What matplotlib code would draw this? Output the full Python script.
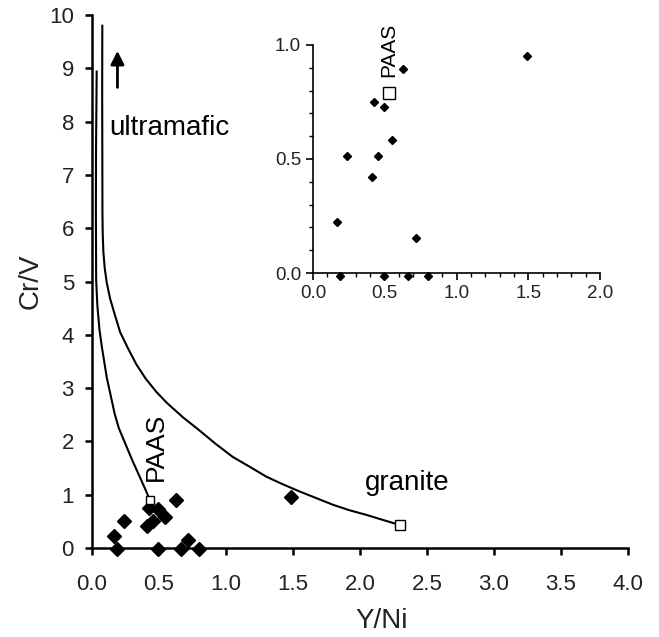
import matplotlib.pyplot as plt
from matplotlib.ticker import MultipleLocator

plt.rcParams['font.family'] = ['Liberation Sans', 'DejaVu Sans']

# sample data (Y/Ni, Cr/V)
y_ni = [0.167, 0.186, 0.240, 0.412, 0.428, 0.453, 0.493, 0.493, 0.547, 0.628, 0.663, 0.716, 0.80, 1.488]
cr_v = [0.222, -0.015, 0.515, 0.420, 0.749, 0.511, -0.015, 0.730, 0.584, 0.896, -0.015, 0.155, -0.015, 0.953]

# end members
paas_main = (0.43, 0.91)
paas_inset = (0.53, 0.788)
granite = (2.30, 0.43)

# mixing curves
inner_x = [0.035, 0.030, 0.029, 0.031, 0.040, 0.056, 0.075, 0.093, 0.11, 0.131, 0.168,
           0.20, 0.25, 0.30, 0.35, 0.40, 0.43]
inner_y = [8.94, 7.47, 6.34, 5.03, 4.55, 4.09, 3.75, 3.47, 3.20, 2.96, 2.53,
           2.25, 1.95, 1.65, 1.37, 1.09, 0.91]
outer_x = [0.077, 0.076, 0.077, 0.078, 0.080, 0.085, 0.095, 0.11, 0.135, 0.17, 0.21, 0.27,
           0.33, 0.40, 0.48, 0.56, 0.68, 0.80, 0.92, 1.05, 1.18, 1.30, 1.42, 1.55, 1.68,
           1.80, 1.92, 2.05, 2.18, 2.30]
outer_y = [9.80, 8.60, 7.47, 6.30, 5.90, 5.55, 5.25, 4.98, 4.68, 4.38, 4.05, 3.74,
           3.45, 3.18, 2.93, 2.72, 2.45, 2.21, 1.96, 1.71, 1.52, 1.34, 1.20, 1.06, 0.93,
           0.81, 0.71, 0.62, 0.52, 0.43]

fig = plt.figure(figsize=(6.59, 6.37), dpi=100)
ax = fig.add_axes([0.1396, 0.1397, 0.8133, 0.8367])

ax.plot(inner_x, inner_y, color='black', lw=1.5, zorder=2)
ax.plot(outer_x, outer_y, color='black', lw=1.5, zorder=2)
ax.plot(y_ni, cr_v, 'D', color='black', ms=7, ls='none', clip_on=False, zorder=3)
ax.plot(*paas_main, 's', mfc='white', mec='black', mew=1, ms=6, clip_on=False, zorder=4)
ax.plot(*granite, 's', mfc='white', mec='black', mew=1, ms=7, clip_on=False, zorder=4)

ax.text(0.13, 7.88, 'ultramafic', fontsize=20, va='center', ha='left')
ax.text(2.04, 1.22, 'granite', fontsize=20, va='center', ha='left')
ax.text(0.474, 1.89, 'PAAS', fontsize=19, rotation=90, va='center', ha='center')
ax.annotate('', xy=(0.19, 9.38), xytext=(0.19, 8.59),
            arrowprops=dict(arrowstyle='-|>', color='black', lw=2, mutation_scale=20))

ax.set_xlim(0, 4)
ax.set_ylim(0, 10)
ax.xaxis.set_major_locator(MultipleLocator(0.5))
ax.yaxis.set_major_locator(MultipleLocator(1))
ax.xaxis.set_major_formatter(lambda v, p: f'{v:.1f}')
ax.yaxis.set_major_formatter(lambda v, p: f'{v:.0f}')
for s in ['top', 'right']:
    ax.spines[s].set_visible(False)
for s in ['left', 'bottom']:
    ax.spines[s].set_linewidth(1.8)
ax.tick_params(direction='out', length=5, width=1.8, labelsize=16, labelcolor='#222')
ax.tick_params(axis='x', pad=14)
ax.tick_params(axis='y', pad=8)
ax.set_xlabel('Y/Ni', fontsize=20, color='#222')
ax.set_ylabel('Cr/V', fontsize=20, color='#222')
ax.xaxis.set_label_coords(0.54, -0.113)
ax.yaxis.set_label_coords(-0.09, 0.5)

# inset zoom on the low values
ins = fig.add_axes([0.475, 0.5714, 0.4355, 0.358])
ins.patch.set_alpha(0)
ins.plot(y_ni, cr_v, 'D', color='black', ms=3.8, ls='none', clip_on=False)
ins.plot(*paas_inset, 's', mfc='white', mec='black', mew=1, ms=8, clip_on=False)
ins.text(0.53, 0.98, 'PAAS', fontsize=15, rotation=90, va='center', ha='center')
ins.set_xlim(0, 2)
ins.set_ylim(0, 1)
ins.xaxis.set_major_locator(MultipleLocator(0.5))
ins.yaxis.set_major_locator(MultipleLocator(0.5))
ins.xaxis.set_minor_locator(MultipleLocator(0.1))
ins.yaxis.set_minor_locator(MultipleLocator(0.1))
ins.xaxis.set_major_formatter(lambda v, p: f'{v:.1f}')
ins.yaxis.set_major_formatter(lambda v, p: f'{v:.1f}')
for s in ['top', 'right']:
    ins.spines[s].set_visible(False)
for s in ['left', 'bottom']:
    ins.spines[s].set_linewidth(1.2)
ins.tick_params(which='major', direction='out', length=5, width=1.2, labelsize=13.5, labelcolor='#222')
ins.tick_params(which='minor', direction='out', length=3, width=1.0)

fig.savefig('out.png', dpi=100)
